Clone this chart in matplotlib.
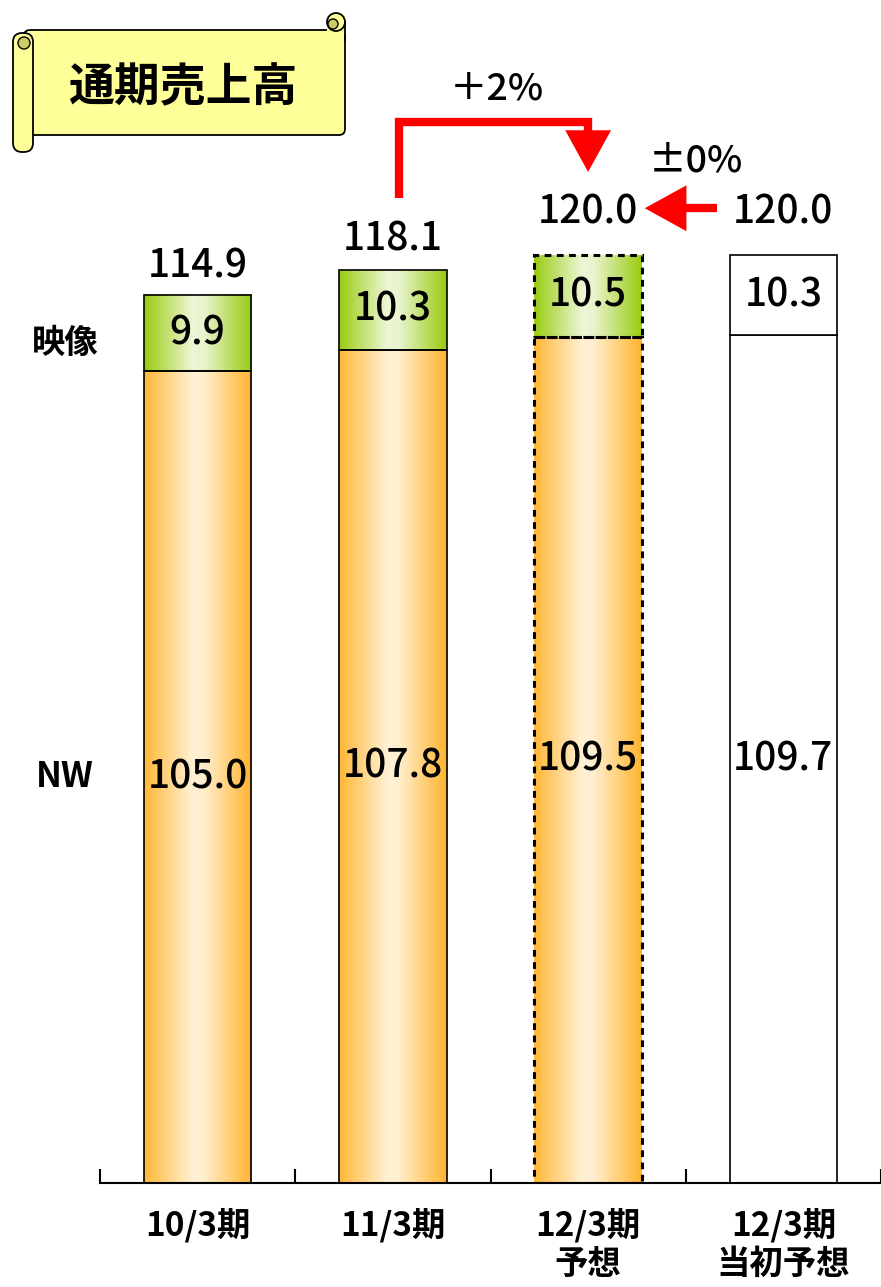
import numpy as np
import matplotlib.pyplot as plt
from matplotlib.colors import LinearSegmentedColormap
from matplotlib.patches import FancyBboxPatch, Circle, Rectangle

plt.rcParams['font.family'] = ['Noto Sans CJK JP', 'DejaVu Sans']

# 売上高（億円）
periods = ['10/3期', '11/3期', '12/3期\n予想', '12/3期\n当初予想']
nw = [105.0, 107.8, 109.5, 109.7]
eizo = [9.9, 10.3, 10.5, 10.3]
totals = [114.9, 118.1, 120.0, 120.0]
growth_labels = ['＋2%', '±0%']

orange = LinearSegmentedColormap.from_list(
    'org', [(0, '#FFB736'), (0.45, '#FFF1D6'), (0.55, '#FFEFCF'), (1, '#FFB42E')])
green = LinearSegmentedColormap.from_list(
    'grn', [(0, '#99CC11'), (0.45, '#EEF6D6'), (0.55, '#EAF4D0'), (1, '#99CC11')])
grad = np.linspace(0, 1, 256).reshape(1, -1)
vw = 'medium'

fig = plt.figure(figsize=(8.81, 12.87), dpi=100)
ax = fig.add_axes([100 / 881, 104 / 1287, 781 / 881, 1183 / 1287])

x = np.arange(len(periods))
w = 0.55

for i in range(len(periods)):
    x0, x1 = x[i] - w / 2, x[i] + w / 2
    if i < 3:
        ax.imshow(grad, cmap=orange, extent=[x0, x1, 0, nw[i]], aspect='auto', zorder=1)
        ax.imshow(grad, cmap=green, extent=[x0, x1, nw[i], nw[i] + eizo[i]],
                  aspect='auto', zorder=1)
    ls = (0, (2.2, 1.8)) if i == 2 else '-'
    lw = 2.2 if i == 2 else 1.2
    ax.bar(x[i], nw[i], w, facecolor='white' if i == 3 else 'none',
           edgecolor='black', linewidth=lw, linestyle=ls, zorder=2)
    ax.bar(x[i], eizo[i], w, bottom=nw[i], facecolor='white' if i == 3 else 'none',
           edgecolor='black', linewidth=lw, linestyle=ls, zorder=2)
    ax.text(x[i], nw[i] / 2, f'{nw[i]:.1f}', ha='center', va='center', fontsize=28,
            fontweight=vw, zorder=3)
    ax.text(x[i], nw[i] + eizo[i] / 2, f'{eizo[i]:.1f}', ha='center', va='center',
            fontsize=28, fontweight=vw, zorder=3)

# 合計
ax.text(x[0], totals[0] + 3.6, f'{totals[0]:.1f}', ha='center', va='center',
        fontsize=28, fontweight=vw)
ax.text(x[1], totals[1] + 4.0, f'{totals[1]:.1f}', ha='center', va='center',
        fontsize=28, fontweight=vw)
ax.text(x[2], 125.6, f'{totals[2]:.1f}', ha='center', va='center', fontsize=28, fontweight=vw)
ax.text(x[3], 125.6, f'{totals[3]:.1f}', ha='center', va='center', fontsize=28, fontweight=vw)

# 増減の矢印
head = dict(arrowstyle='-|>,head_length=1.0,head_width=0.55', color='red', lw=0,
            shrinkA=0, shrinkB=0, mutation_scale=30)
ax.plot([1.03, 1.03, 2.0, 2.0], [127.4, 137.3, 137.3, 134.0], color='red',
        linewidth=6, solid_joinstyle='miter', solid_capstyle='butt', zorder=3)
ax.annotate('', xy=(2.0, 130.8), xytext=(2.0, 134.5), arrowprops=head)
ax.plot([2.66, 2.44], [126.1, 126.1], color='red', linewidth=6,
        solid_capstyle='butt', zorder=3)
ax.annotate('', xy=(2.29, 126.1), xytext=(2.46, 126.1), arrowprops=head)
ax.text(1.53, 141.6, growth_labels[0], ha='center', va='center', fontsize=27, fontweight=vw)
ax.text(2.55, 132.3, growth_labels[1], ha='center', va='center', fontsize=27, fontweight=vw)

# 系列名
ax.text(-0.68, 108.6, '映像', ha='center', va='center', fontsize=24,
        fontweight='bold', clip_on=False)
ax.text(-0.68, 52.6, 'NW', ha='center', va='center', fontsize=25,
        fontweight='bold', clip_on=False)

ax.set_xlim(-0.5, -0.5 + 781 / 196)
ax.set_ylim(0, 1183 / 7.73)
ax.set_xticks(x, periods)
ax.set_xticks(np.arange(-0.5, 4, 1), minor=True)
ax.tick_params(axis='x', which='major', length=0, pad=18, labelsize=24)
ax.tick_params(axis='x', which='minor', direction='in', length=10, width=1.5)
for lbl in ax.get_xticklabels():
    lbl.set_fontweight('bold')
    lbl.set_linespacing(1.2)
ax.set_yticks([])
for s in ['left', 'top', 'right']:
    ax.spines[s].set_visible(False)
ax.spines['bottom'].set_linewidth(1.5)

# タイトルの巻物
tax = fig.add_axes([0, 0, 1, 1], zorder=5)
tax.set_xlim(0, 881)
tax.set_ylim(1287, 0)
tax.axis('off')
scroll = '#FFFF99'
roll = '#CCCC66'
tax.add_patch(FancyBboxPatch((24, 30), 321, 105, boxstyle='round,pad=0,rounding_size=6',
                             facecolor=scroll, edgecolor='black', linewidth=1.3))
tax.add_patch(Rectangle((327, 15), 18, 20, facecolor=scroll, edgecolor='none'))
tax.add_patch(Circle((336, 22), 9, facecolor=scroll, edgecolor='black', linewidth=1.3))
tax.add_patch(Circle((333, 24), 5, facecolor=roll, edgecolor='black', linewidth=1.0))
tax.plot([345, 345], [22, 40], color='black', linewidth=1.3)
tax.add_patch(FancyBboxPatch((13, 33), 20, 119, boxstyle='round,pad=0,rounding_size=9',
                             facecolor=scroll, edgecolor='black', linewidth=1.3))
tax.add_patch(Circle((24, 43), 6, facecolor=roll, edgecolor='black', linewidth=1.0))
tax.text(183, 88, '通期売上高', ha='center', va='center', fontsize=33, fontweight='bold')

fig.savefig('out.png', dpi=100)
